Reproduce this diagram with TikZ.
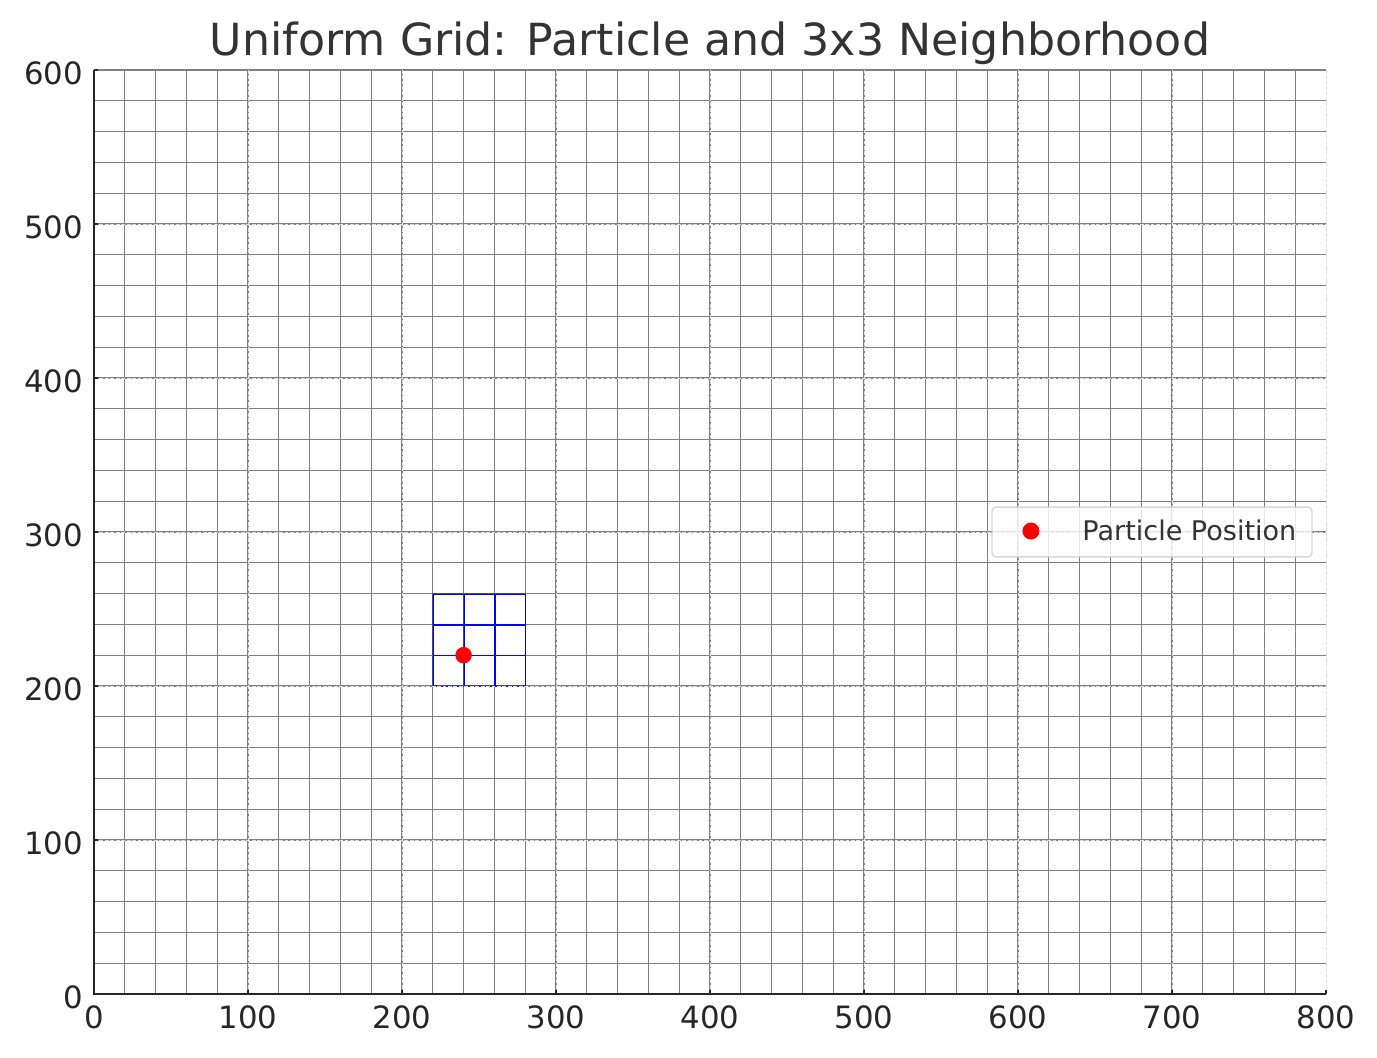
\documentclass[tikz,border=0pt]{standalone}
\usepackage{fontspec}
\setmainfont{DejaVu Sans}
\usetikzlibrary{calc}

\begin{document}
\begin{tikzpicture}[x=0.0308cm, y=0.0308cm]
  % Axes 0..800 x 0..600, one data unit = 1.54 px of the 1377 x 1057 frame
  \useasboundingbox (-61.04,-40.91) rectangle (833.12,645.45);
  \tikzset{
    cellgrid/.style={gray, line width=0.6pt},
    majorgrid/.style={gray!25, line width=0.4pt, dash pattern=on 2.2pt off 0.9pt},
    spine/.style={black!85, line width=1pt},
    nbrcell/.style={black!70, line width=0.6pt},
    nbrline/.style={blue, line width=0.7pt},
    ticklab/.style={font=\fontsize{17.5}{21}\selectfont, text=black!85, inner sep=0pt},
  }

  % Fine grid, cell size 20
  \foreach \x in {20,40,...,780} {
    \draw[cellgrid] (\x,0) -- (\x,600);
  }
  \foreach \y in {20,40,...,600} {
    \draw[cellgrid] (0,\y) -- (800,\y);
  }

  % 3x3 neighborhood round the particle's cell
  \foreach \i in {0,1,2} {
    \foreach \j in {0,1,2} {
      \draw[nbrcell] (220+20*\i,200+20*\j) rectangle ++(20,20);
    }
  }
  \foreach \i in {0,1,2} {
    \foreach \j in {0,1,2} {
      \draw[nbrline] ($(220+20*\i,200+20*\j)+(0.4,-0.4)$) rectangle ++(20,20);
    }
  }

  % Major grid (every 100), dashed over the fine grid
  \foreach \x in {100,200,...,800} {
    \draw[majorgrid] (\x,0) -- (\x,600);
  }
  \foreach \y in {100,200,...,500} {
    \draw[majorgrid] (0,\y) -- (800,\y);
  }

  % Ticks and labels
  \foreach \x in {0,100,...,800} {
    \draw[spine] (\x,0) -- (\x,2.6);
    \node[ticklab, anchor=base] (xt\x) at (\x,-22.7) {\x};
  }
  \foreach \y in {0,100,...,600} {
    \draw[spine] (0,\y) -- (2.6,\y);
    \node[ticklab, anchor=base east] (yt\y) at (-7,\y-9.1) {\y};
  }

  % Spines (left and bottom only)
  \draw[spine] (0,600) -- (0,0) -- (800,0);

  % Particle
  \node[circle, fill=red, inner sep=0pt, minimum size=0.33cm] (particle) at (240,220) {};

  % Title
  \node[font=\fontsize{25.2}{30}\selectfont, text=black!80, anchor=base] (title) at (400,609.7)
    {Uniform Grid: Particle and 3x3 Neighborhood};

  % Legend
  \node[draw=gray!40, fill=white, fill opacity=0.8, draw opacity=0.8, rounded corners=0.08cm,
    line width=0.8pt, minimum width=6.4cm, minimum height=0.998cm, inner sep=0pt] (legend) at (687,300) {};
  \node[circle, fill=red, inner sep=0pt, minimum size=0.34cm] (legdot) at (608.4,300.6) {};
  \node[font=\fontsize{15.4}{18}\selectfont, text=black!80, anchor=base west, inner sep=0pt] (legtext)
    at (641.6,294.2) {Particle Position};
\end{tikzpicture}
\end{document}
